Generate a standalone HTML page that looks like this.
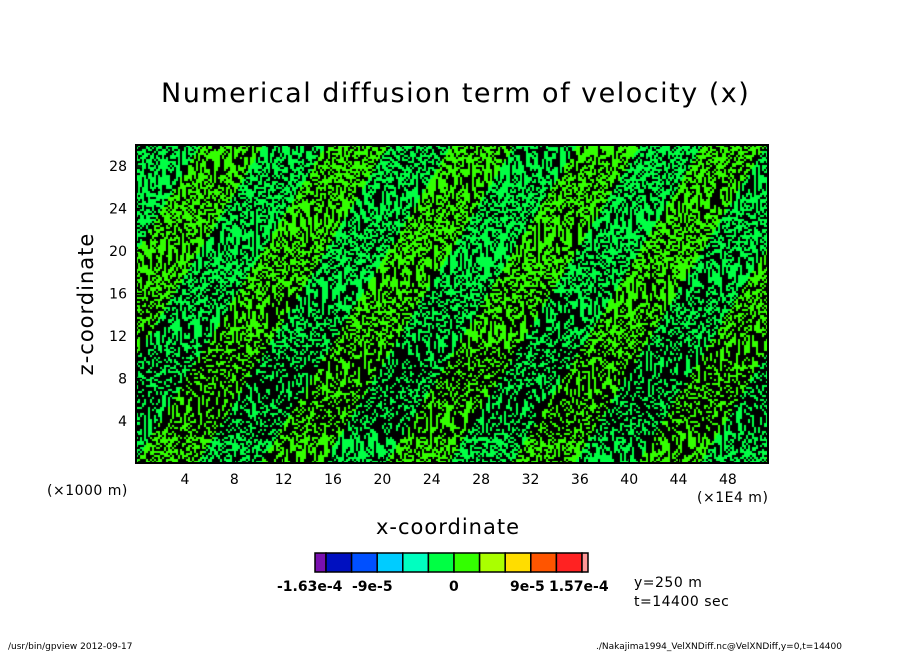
<!DOCTYPE html>
<html><head><meta charset="utf-8"><style>
body{margin:0;background:#fff;width:904px;height:654px;position:relative;overflow:hidden;font-family:"DejaVu Sans","Liberation Sans",sans-serif;}
.t{position:absolute;white-space:nowrap;color:#000;}
</style></head><body>
<div class="t" style="left:161px;top:78px;font-size:27px;letter-spacing:1.5px;">Numerical diffusion term of velocity (x)</div>
<canvas id="field" width="632" height="318" style="position:absolute;left:136px;top:145px;"></canvas>
<svg id="ax" width="904" height="654" style="position:absolute;left:0;top:0;"></svg>
<div class="t" style="left:-14px;top:292px;font-size:21px;letter-spacing:1px;transform:rotate(-90deg);transform-origin:center;width:200px;text-align:center;">z-coordinate</div>
<div class="t" style="left:376px;top:515px;font-size:21px;letter-spacing:1px;">x-coordinate</div>
<div class="t" style="left:47px;top:483px;font-size:14px;letter-spacing:0.5px;">(×1000 m)</div>
<div class="t" style="left:697px;top:490px;font-size:14px;letter-spacing:0.5px;">(×1E4 m)</div>
<div class="t" style="left:634px;top:575px;font-size:14px;letter-spacing:0.5px;">y=250 m</div>
<div class="t" style="left:634px;top:594px;font-size:14px;letter-spacing:0.5px;">t=14400 sec</div>
<div class="t" style="left:8px;top:642px;font-size:9px;">/usr/bin/gpview  2012-09-17</div>
<div class="t" style="left:596px;top:642px;font-size:9px;">./Nakajima1994_VelXNDiff.nc@VelXNDiff,y=0,t=14400</div>
<script>
const xTicks=[4,8,12,16,20,24,28,32,36,40,44,48];
const zTicks=[4,8,12,16,20,24,28];
const cbColors=["#7a10b0","#0010c0","#0050ff","#00ccff","#00ffc0","#00ff44","#33ff00","#aaff00","#ffdd00","#ff5500","#ff2222","#ff9999"];
const cbLabels=["-1.63e-4","-9e-5","0","9e-5","1.57e-4"];
const cbLabelX=[277,352,449,510,549];
const X0=136,X1=768,Y0=145,Y1=463;
const xs=v=>135.6+v*12.34, ys=v=>463.5-v*10.625;
const svg=document.getElementById('ax');const NS="http://www.w3.org/2000/svg";
function mk(t,a){const e=document.createElementNS(NS,t);for(const k in a)e.setAttribute(k,a[k]);svg.appendChild(e);return e;}
const fr=mk('rect',{x:X0,y:Y0,width:X1-X0,height:Y1-Y0,fill:'none',stroke:'#000','stroke-width':2});

xTicks.forEach(v=>{const x=xs(v);mk('line',{x1:x,x2:x,y1:Y1,y2:Y1-6,stroke:'#000','stroke-width':1.5});
const t=mk('text',{x:x,y:484,'text-anchor':'middle','font-size':14,'font-family':'DejaVu Sans,sans-serif'});t.textContent=v;
});
zTicks.forEach(v=>{const y=ys(v);mk('line',{x1:X0,x2:X0+6,y1:y,y2:y,stroke:'#000','stroke-width':1.5});
const t=mk('text',{x:127,y:y+5,'text-anchor':'end','font-size':14,'font-family':'DejaVu Sans,sans-serif'});t.textContent=v;
});
const widths=[11].concat(Array(10).fill(25.6),[6]);let cx=315;
cbColors.forEach((c,i)=>{const r=mk('rect',{x:cx,y:553,width:widths[i],height:19,fill:c,stroke:'#000','stroke-width':1.5});
cx+=widths[i];});
cbLabels.forEach((l,i)=>{const t=mk('text',{x:cbLabelX[i],y:591,'font-size':14,'font-weight':'bold','font-family':'DejaVu Sans,sans-serif'});t.textContent=l;
});
const cv=document.getElementById('field'),g=cv.getContext('2d');
g.fillStyle='#000';g.fillRect(0,0,632,318);
for(let y=0;y<318;y+=2)for(let x=0;x<632;x+=2){
 const v=Math.sin(x*0.35+Math.sin(y*0.04+x*0.01)*4)+Math.sin(x*0.09+y*0.02)*0.8+Math.sin(x*0.6+y*0.08)*0.4+Math.sin(y*0.12+x*0.03)*0.5;
 const low=y>290?0.1:(y>200?0.5:(y>140?0.25:0.05));
 const f=(v*1.3)%1;const ff=f<0?f+1:f;
 if(ff>0.4+low*0.5){g.fillStyle=(Math.sin(x*0.05+y*0.03)>0)?'#00ff44':'#33ff00';g.fillRect(x,y,2,2);}
}
</script>
</body></html>
